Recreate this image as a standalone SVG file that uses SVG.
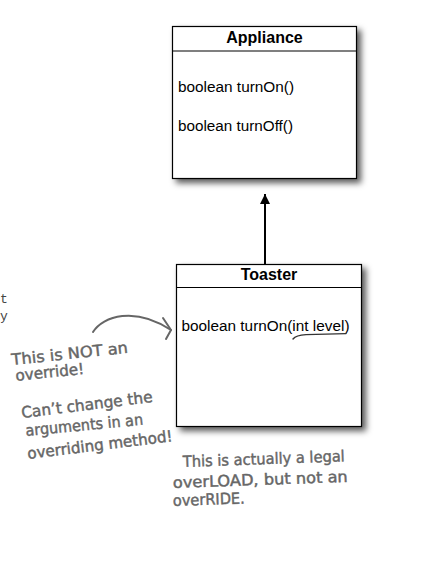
<svg xmlns="http://www.w3.org/2000/svg" width="436" height="563" viewBox="0 0 436 563">
<defs>
<filter id="sh" x="-10%" y="-10%" width="130%" height="130%">
<feDropShadow dx="4" dy="4" stdDeviation="3" flood-color="#000" flood-opacity="0.65"/>
</filter>
<marker id="tri" markerWidth="14" markerHeight="10" refX="10" refY="5" orient="auto" markerUnits="userSpaceOnUse">
<path d="M0,0 L10,5 L0,10 Z" fill="#000"/>
</marker>
</defs>
<style>
.box{fill:#fff;stroke:#000;stroke-width:1.2}
.div{stroke:#000;stroke-width:1.2}
.title{font-family:"Liberation Sans",Arial,sans-serif;font-weight:bold;font-size:16px;fill:#000;text-anchor:middle}
.m{font-family:"Liberation Sans",Arial,sans-serif;font-size:15.5px;fill:#000}
.hw{font-family:"DejaVu Sans","Liberation Sans",sans-serif;font-size:15.5px;fill:#666;stroke:#666;stroke-width:0.45}
.frag{font-family:"Liberation Mono",monospace;font-size:13px;fill:#444}
</style>
<rect width="436" height="563" fill="#fff"/>
<text class="frag" x="0" y="303">t</text>
<text class="frag" x="0" y="320">y</text>
<g id="appliance">
<rect class="box" x="172.5" y="26.5" width="184" height="152" filter="url(#sh)"/>
<line class="div" x1="172.5" y1="51" x2="356.5" y2="51"/>
<text class="title" x="264.5" y="43">Appliance</text>
<text class="m" x="178" y="92" textLength="116" lengthAdjust="spacingAndGlyphs">boolean turnOn()</text>
<text class="m" x="178" y="131" textLength="115" lengthAdjust="spacingAndGlyphs">boolean turnOff()</text>
</g>
<g id="toaster">
<rect class="box" x="176.5" y="264.5" width="185" height="162" filter="url(#sh)"/>
<line class="div" x1="176.5" y1="287.5" x2="361.5" y2="287.5"/>
<text class="title" x="269" y="280">Toaster</text>
<text class="m" x="181.5" y="331" textLength="168" lengthAdjust="spacingAndGlyphs">boolean turnOn(int level)</text>
<path d="M293,339 Q296,335 306,334.6 L346,333.6" fill="none" stroke="#333" stroke-width="1.4" stroke-linecap="round"/>
</g>
<g id="connectors">
<line x1="265" y1="264.5" x2="265" y2="194" stroke="#000" stroke-width="2" marker-end="url(#tri)"/>
<path d="M93,332 C103,316 135,306 171,330" fill="none" stroke="#666" stroke-width="2" stroke-linecap="round"/>
<path d="M163,318 L171,330 L166,339" fill="none" stroke="#666" stroke-width="2" stroke-linecap="round" stroke-linejoin="round"/>
</g>
<g id="notes">
<text class="hw" transform="translate(12,365) rotate(-6)" textLength="117" lengthAdjust="spacingAndGlyphs">This is NOT an</text>
<text class="hw" transform="translate(16,381) rotate(-6)" textLength="69" lengthAdjust="spacingAndGlyphs">override!</text>
<text class="hw" transform="translate(22,418) rotate(-7)" textLength="132" lengthAdjust="spacingAndGlyphs">Can’t change the</text>
<text class="hw" transform="translate(26,436) rotate(-5.5)" textLength="118" lengthAdjust="spacingAndGlyphs">arguments in an</text>
<text class="hw" transform="translate(28,459) rotate(-7)" textLength="146" lengthAdjust="spacingAndGlyphs">overriding method!</text>
<text class="hw" transform="translate(183,467) rotate(-2)" textLength="162" lengthAdjust="spacingAndGlyphs">This is actually a legal</text>
<text class="hw" transform="translate(173,488) rotate(-2)" textLength="175" lengthAdjust="spacingAndGlyphs">overLOAD, but not an</text>
<text class="hw" transform="translate(173,506) rotate(-2)" textLength="72" lengthAdjust="spacingAndGlyphs">overRIDE.</text>
</g>
</svg>
